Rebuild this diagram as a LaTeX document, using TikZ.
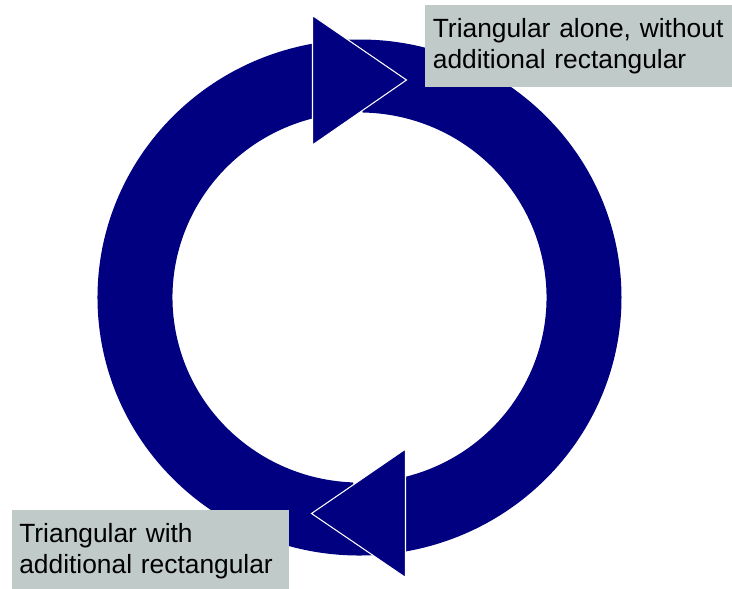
\documentclass[tikz,border=0pt]{standalone}
\usepackage{fontspec}
\setmainfont{Liberation Sans}
\definecolor{ringblue}{RGB}{0,0,128}
\definecolor{notegray}{RGB}{192,202,201}

\begin{document}
\begin{tikzpicture}[x=0.02cm, y=0.02cm,
    ringband/.style={fill=ringblue, draw=none},
    ringtip/.style={fill=ringblue, draw=white, line width=0.6pt, line join=miter},
    notebox/.style={anchor=north west, fill=notegray, text=black, align=left,
      inner xsep=0.15cm, minimum height=1.64cm, font=\fontsize{15}{17.5}\selectfont}]

  % picture frame, centre of the ring at the origin
  \useasboundingbox (-359.5,-290.5) rectangle (372.5,297.5);

  %%% The two halves of the ring
  % left half, from the bottom up to the top arrowhead
  \fill[ringband] (273:262 and 258)
    arc[start angle=273, end angle=100.5, x radius=262, y radius=258]
    -- (104.7:187 and 185)
    arc[start angle=104.7, end angle=268, x radius=187, y radius=185] -- cycle;

  % right half, from the top down to the bottom arrowhead
  \fill[ringband] (93.5:262 and 258)
    arc[start angle=93.5, end angle=-79.9, x radius=262, y radius=258]
    -- (-75.8:187 and 185)
    arc[start angle=-75.8, end angle=89, x radius=187, y radius=185] -- cycle;

  %%% Arrowheads
  % top one, pointing right
  \filldraw[ringtip] (-47,282) -- (-47,152.5) -- (47,217.5) -- cycle;
  % bottom one, pointing left
  \filldraw[ringtip] (46,-151.5) -- (46,-280) -- (-48,-216) -- cycle;

  %%% Labels
  \node[notebox, text width=5.84cm] (alone) at (65.5,292.5)
    {Triangular alone, without\\additional rectangular};
  \node[notebox, text width=5.25cm] (with) at (-348,-212)
    {Triangular with\\additional rectangular};
\end{tikzpicture}
\end{document}
